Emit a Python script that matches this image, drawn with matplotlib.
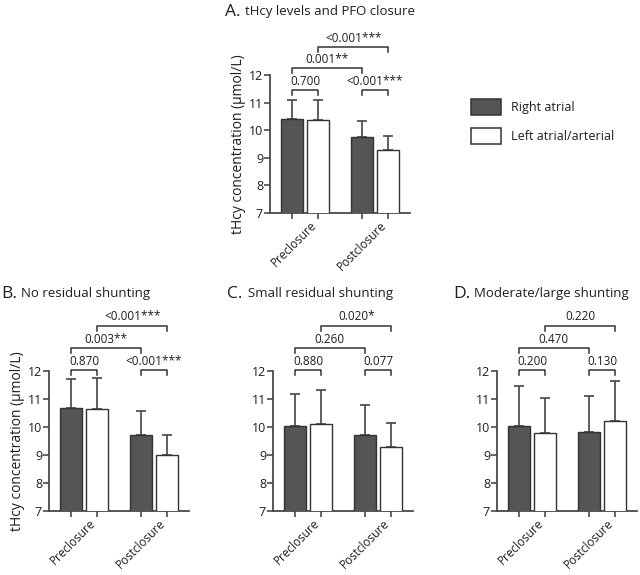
import numpy as np
import matplotlib
matplotlib.use("Agg")
import matplotlib.pyplot as plt
from matplotlib.patches import Rectangle

plt.rcParams['font.family'] = ['Open Sans', 'DejaVu Sans']

W, H = 640, 575

groups = ['Preclosure', 'Postclosure']
series = ['Right atrial', 'Left atrial/arterial']

titles = ['tHcy levels and PFO closure', 'No residual shunting',
          'Small residual shunting', 'Moderate/large shunting']
letters = ['A.', 'B.', 'C.', 'D.']

right_mean = [[10.42, 9.76], [10.67, 9.72], [10.05, 9.72], [10.05, 9.82]]
right_sd = [[0.68, 0.57], [1.05, 0.84], [1.13, 1.06], [1.42, 1.30]]
left_mean = [[10.38, 9.27], [10.64, 9.00], [10.10, 9.27], [9.77, 10.22]]
left_sd = [[0.72, 0.51], [1.11, 0.72], [1.22, 0.86], [1.28, 1.41]]

# p values: pre R vs L, pre R vs post R, pre L vs post L, post R vs L
pvals = [['0.700', '0.001**', '<0.001***', '<0.001***'],
         ['0.870', '0.003**', '<0.001***', '<0.001***'],
         ['0.880', '0.260', '0.020*', '0.077'],
         ['0.200', '0.470', '0.220', '0.130']]

# layout in pixels: (left of y axis, y of value 12, y of value 7)
axes_px = [(270, 75, 213), (49, 371, 511), (273, 371, 511), (497, 371, 511)]
title_px = [(225, 245, 12), (1, 21, 294), (227, 248, 294), (453, 474, 294)]
bracket_y = [[11.44, 12.25, 13.0, 11.44],
             [12.03, 12.83, 13.62, 12.03],
             [12.03, 12.83, 13.62, 12.03],
             [12.03, 12.83, 13.62, 12.03]]

dark = '#555555'
edge = '#333333'
axcol = '#4a4a4a'
txt = '#1e1e1e'
off = 0.19
bw = 0.31

fig = plt.figure(figsize=(W / 100, H / 100), dpi=100)

for i in range(4):
    lx, ty, by = axes_px[i]
    ax = fig.add_axes([lx / W, 1 - by / H, 140 / W, (by - ty) / H])
    x = np.arange(len(groups))
    ax.bar(x - off, right_mean[i], bw, color=dark, edgecolor=edge, linewidth=1, zorder=3)
    ax.bar(x + off, left_mean[i], bw, color='white', edgecolor=edge, linewidth=1, zorder=3)
    ax.errorbar(x - off, right_mean[i], yerr=[np.zeros(2), right_sd[i]], fmt='none',
                ecolor='#444444', elinewidth=1.2, capsize=3.4, capthick=1.2, zorder=2)
    ax.errorbar(x + off, left_mean[i], yerr=[np.zeros(2), left_sd[i]], fmt='none',
                ecolor='#444444', elinewidth=1.2, capsize=3.4, capthick=1.2, zorder=2)
    ax.set_xlim(-0.5, 1.5)
    ax.set_ylim(7, 12)
    ax.set_yticks([7, 8, 9, 10, 11, 12])
    ax.spines['top'].set_visible(False)
    ax.spines['right'].set_visible(False)
    for s in ['left', 'bottom']:
        ax.spines[s].set_color(axcol)
        ax.spines[s].set_linewidth(1.3)
    ax.tick_params(axis='y', colors=axcol, labelcolor=txt, labelsize=9, length=4, width=1.2, pad=1)
    ax.set_xticks(x + 0.07)
    ax.set_xticklabels(groups, rotation=45, ha='right', va='top', rotation_mode='anchor',
                       fontsize=8.5, color=txt)
    ax.tick_params(axis='x', which='major', length=0, pad=4)
    ax.set_xticks(np.concatenate([x - off, x + off]), minor=True)
    ax.tick_params(axis='x', which='minor', length=4, width=1.2, colors=axcol)
    if i < 2:
        ax.set_ylabel('tHcy concentration (μmol/L)', fontsize=10, color=txt, labelpad=2)

    # significance brackets
    pos = [(-off, off), (-off, 1 - off), (off, 1 + off), (1 - off, 1 + off)]
    drop = 0.18
    for (x1, x2), yb, lab in zip(pos, bracket_y[i], pvals[i]):
        ax.plot([x1, x1, x2, x2], [yb - drop, yb, yb, yb - drop], color='#333333',
                lw=1.1, clip_on=False)
        ax.text((x1 + x2) / 2, yb + 0.08, lab, ha='center', va='bottom', fontsize=8.5,
                color=txt, clip_on=False)

    # titles
    x0, x1, ty0 = title_px[i]
    fig.text(x0 / W, 1 - ty0 / H, letters[i], fontsize=12.5, va='center', ha='left', color=txt)
    fig.text(x1 / W, 1 - ty0 / H, titles[i], fontsize=9.5, va='center', ha='left', color=txt)

# legend
for j, (name, fc) in enumerate(zip(series, [dark, 'white'])):
    y0 = 99 + 29 * j
    fig.add_artist(Rectangle((471 / W, 1 - (y0 + 16) / H), 30 / W, 16 / H,
                             transform=fig.transFigure, facecolor=fc, edgecolor=edge, lw=1.1))
    fig.text(511 / W, 1 - (y0 + 8) / H, name, fontsize=9, va='center', ha='left', color=txt)

fig.savefig('out.png', dpi=100)
